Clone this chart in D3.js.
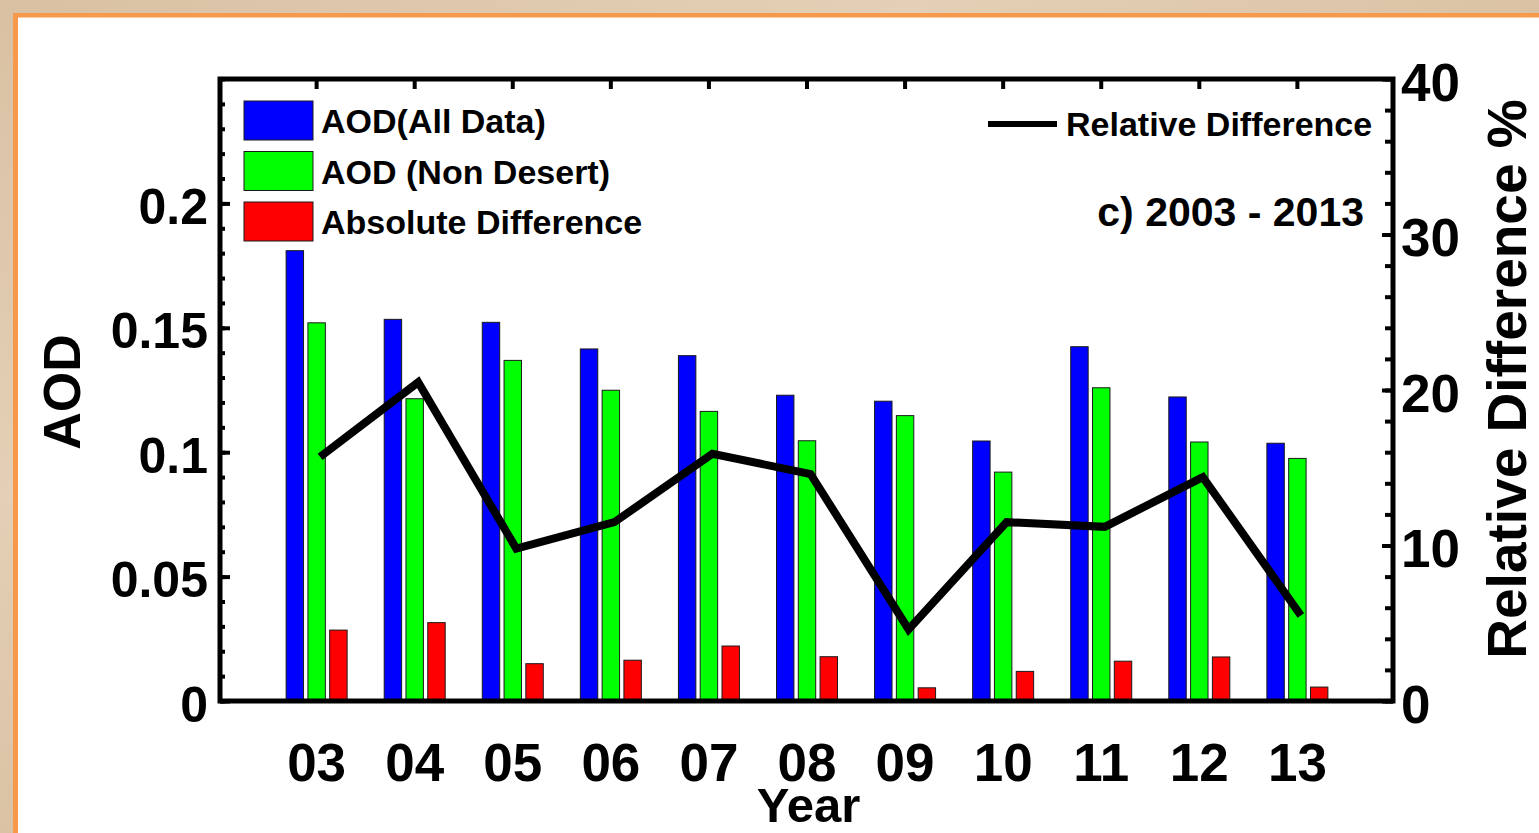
<!DOCTYPE html>
<html><head><meta charset="utf-8">
<script src="https://cdn.jsdelivr.net/npm/d3@7"></script>
<style>
body{margin:0;overflow:hidden;background:#fff;}
svg{display:block;}
text{font-family:"Liberation Sans",Arial,Helvetica,sans-serif;font-weight:bold;fill:#000;}
</style>
</head><body>
<svg id="chart" width="1539" height="833"></svg>
<script>
// ---------- data ----------
const years = ["03","04","05","06","07","08","09","10","11","12","13"];
const aodAll       = [0.181, 0.1534, 0.1522, 0.1415, 0.1388, 0.1229, 0.1205, 0.1045, 0.1424, 0.1222, 0.1036];
const aodNonDesert = [0.152, 0.1215, 0.1369, 0.1249, 0.1164, 0.1046, 0.1147, 0.0920, 0.1259, 0.1041, 0.0975];
const absDiff      = [0.0285, 0.0315, 0.0150, 0.0164, 0.0221, 0.0178, 0.0053, 0.0119, 0.0160, 0.0177, 0.0056];
const relDiff      = [15.7, 20.5, 9.8, 11.5, 15.9, 14.6, 4.6, 11.5, 11.2, 14.4, 5.5];
const seriesNames  = ["AOD(All Data)", "AOD (Non Desert)", "Absolute Difference"];
const seriesColors = ["#0000ff", "#00ff00", "#ff0000"];
const lineName     = "Relative Difference";
const panelLabel   = "c) 2003 - 2013";
const leftTicks      = [0, 0.05, 0.1, 0.15, 0.2];
const leftTickLabels = ["0", "0.05", "0.1", "0.15", "0.2"];
const rightTicks      = [0, 10, 20, 30, 40];
const rightTickLabels = ["0", "10", "20", "30", "40"];
const xTitle = "Year", yTitle = "AOD", y2Title = "Relative Difference %";

// ---------- layout ----------
const svg = d3.select("#chart");
const L = 220, R = 1393, T = 79, B = 701;

// background (desert-like beige) + orange frame + white panel
const defs = svg.append("defs");
const g1 = defs.append("linearGradient").attr("id","bg").attr("x1","0").attr("y1","0").attr("x2","1").attr("y2","1");
g1.append("stop").attr("offset","0").attr("stop-color","#d9c0a3");
g1.append("stop").attr("offset","0.3").attr("stop-color","#e4d0b6");
g1.append("stop").attr("offset","0.6").attr("stop-color","#d6bb9c");
g1.append("stop").attr("offset","1").attr("stop-color","#e8d6bb");
svg.append("rect").attr("width",1539).attr("height",833).attr("fill","url(#bg)");
svg.append("rect").attr("x",13).attr("y",13).attr("width",1600).attr("height",900).attr("fill","#f7994d");
svg.append("rect").attr("x",18).attr("y",17.5).attr("width",1600).attr("height",900).attr("fill","#ffffff");

// ---------- scales ----------
const x = d3.scalePoint().domain(years).range([L, R]).padding(0.98);
const sub = d3.scaleBand().domain(seriesNames).range([-30, 31]).paddingInner(0.2);
const y = d3.scaleLinear().domain([0, 0.25]).range([B, T]);
const y2 = d3.scaleLinear().domain([0, 40]).range([B, T]);

// ---------- bars ----------
const seriesData = [aodAll, aodNonDesert, absDiff];
seriesData.forEach((vals, si) => {
  svg.append("g").selectAll("rect").data(vals).join("rect")
    .attr("x", (d,i) => x(years[i]) + sub(seriesNames[si]))
    .attr("y", d => y(d))
    .attr("width", sub.bandwidth())
    .attr("height", d => B - y(d))
    .attr("fill", seriesColors[si])
    .attr("stroke", "#1a1a1a").attr("stroke-width", 1);
});

// ---------- line ----------
const line = d3.line().x((d,i) => x(years[i]) + 4).y(d => y2(d));
svg.append("path").datum(relDiff).attr("d", line)
  .attr("fill","none").attr("stroke","#000").attr("stroke-width",8)
  .attr("stroke-linejoin","miter").attr("stroke-linecap","butt");

// ---------- axes ----------
function styleAxis(g){ g.select(".domain").remove(); g.selectAll(".tick line").attr("stroke","#000").attr("stroke-width",4); }

// left minor ticks
svg.append("g").attr("transform",`translate(${L},0)`)
  .call(d3.axisLeft(y).tickValues(d3.range(0, 0.2501, 0.01)).tickSize(-5).tickFormat(""))
  .call(styleAxis);
// left major
svg.append("g").attr("transform",`translate(${L},0)`)
  .call(d3.axisLeft(y).tickValues(leftTicks).tickSize(-10).tickPadding(12).tickFormat((d,i)=>leftTickLabels[i]))
  .call(styleAxis)
  .call(g => g.selectAll("text").attr("font-size",50).attr("dy","0.40em").attr("font-family",null));

// right minor
svg.append("g").attr("transform",`translate(${R},0)`)
  .call(d3.axisRight(y2).tickValues(d3.range(0, 40.1, 2)).tickSize(-8).tickFormat(""))
  .call(styleAxis);
// right major
svg.append("g").attr("transform",`translate(${R},0)`)
  .call(d3.axisRight(y2).tickValues(rightTicks).tickSize(-11).tickPadding(8).tickFormat((d,i)=>rightTickLabels[i]))
  .call(styleAxis)
  .call(g => g.selectAll("text").attr("font-size",53).attr("dy","0.40em").attr("font-family",null));

// bottom labels
svg.append("g").attr("transform",`translate(0,${B})`)
  .call(d3.axisBottom(x).tickSize(0).tickPadding(0))
  .call(styleAxis)
  .call(g => g.selectAll("text").attr("font-size",53).attr("font-family",null).attr("dy",null).attr("y",80));

// top ticks
svg.append("g").attr("transform",`translate(0,${T})`)
  .call(d3.axisTop(x).tickSize(-10).tickFormat(""))
  .call(styleAxis);

// box frame
svg.append("rect").attr("x",L).attr("y",T).attr("width",R-L).attr("height",B-T)
  .attr("fill","none").attr("stroke","#000").attr("stroke-width",5);

// ---------- titles ----------
svg.append("text").attr("x",(L+R)/2 + 2).attr("y",822).attr("text-anchor","middle").attr("font-size",49).text(xTitle);
svg.append("text").attr("transform","translate(80,392) rotate(-90)").attr("text-anchor","middle").attr("font-size",52).text(yTitle);
svg.append("text").attr("transform","translate(1526,379) rotate(-90)").attr("text-anchor","middle").attr("font-size",55).text(y2Title);

// ---------- legend ----------
const lg = svg.append("g");
seriesNames.forEach((n,i) => {
  lg.append("rect").attr("x",244).attr("y",101 + i*50.5).attr("width",69).attr("height",39)
    .attr("fill",seriesColors[i]).attr("stroke","#1a1a1a").attr("stroke-width",1);
  lg.append("text").attr("x",321).attr("y",133 + i*50.5).attr("font-size",34).text(n);
});
lg.append("line").attr("x1",988).attr("x2",1057).attr("y1",124).attr("y2",124).attr("stroke","#000").attr("stroke-width",6);
lg.append("text").attr("x",1066).attr("y",136).attr("font-size",34).text(lineName);
svg.append("text").attr("x",1364).attr("y",226).attr("text-anchor","end").attr("font-size",41).text(panelLabel);
</script>
</body></html>
